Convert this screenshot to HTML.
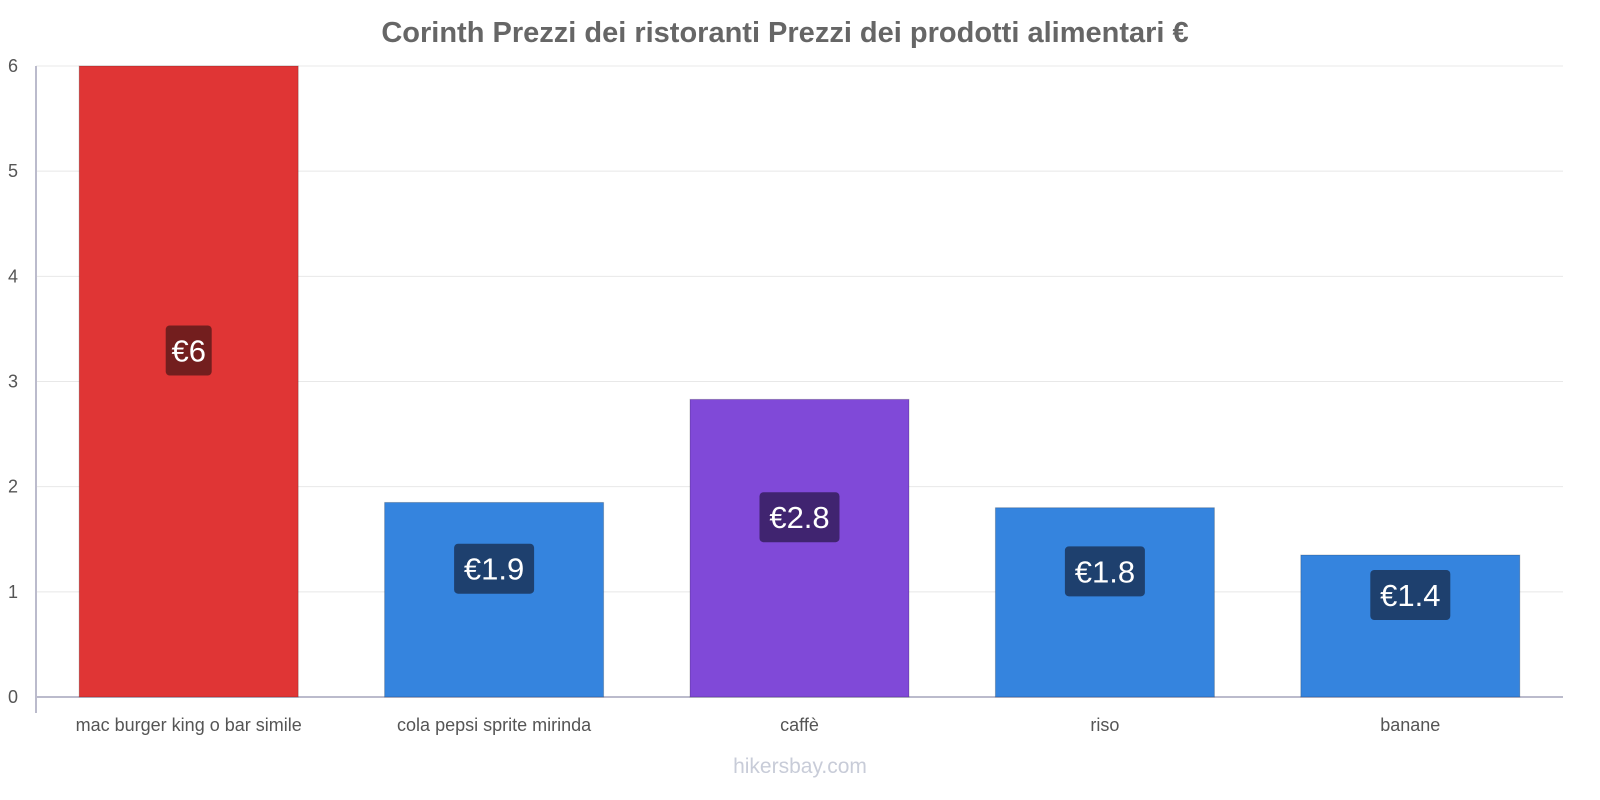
<!DOCTYPE html>
<html><head><meta charset="utf-8"><style>
body{margin:0;background:#fff;}
svg{display:block;font-family:"Liberation Sans",sans-serif;}
</style></head><body>
<svg id="chart" width="1600" height="800">
<text x="785" y="42" text-anchor="middle" font-size="29" font-weight="bold" fill="#666">Corinth Prezzi dei ristoranti Prezzi dei prodotti alimentari €</text>
<g id="grid"></g><g id="bars"></g><g id="labels"></g>
<text x="800" y="773" text-anchor="middle" font-size="21" fill="#c8ccd8">hikersbay.com</text>
</svg>
<script>
const categories=["mac burger king o bar simile","cola pepsi sprite mirinda","caffè","riso","banane"];
const values=[6,1.85,2.83,1.8,1.35];
const valueLabels=["€6","€1.9","€2.8","€1.8","€1.4"];
const yTicks=[0,1,2,3,4,5,6];
const barColors=["#e03535","#3584de","#8049d8","#3584de","#3584de"];
const boxColors=["#731e1e","#1e406e","#402470","#1e406e","#1e406e"];
const NS="http://www.w3.org/2000/svg";
const x0=36,x1=1563,yBase=697,yTop=66,maxV=6;
const y=v=>yBase-(yBase-yTop)*v/maxV;
const band=(x1-x0)/categories.length;
function mk(t,a,p){const e=document.createElementNS(NS,t);for(const k in a)e.setAttribute(k,a[k]);p.appendChild(e);return e;}
const g=document.getElementById('grid'),b=document.getElementById('bars'),l=document.getElementById('labels');
yTicks.forEach(t=>{
 const ln=mk('line',{x1:x0,x2:x1,y1:y(t),y2:y(t),stroke:t===0?'#bbc':'#e8e8e8','stroke-width':t===0?2:1},g);
 
 
 const tx=mk('text',{x:18,y:y(t)+6,'text-anchor':'end','font-size':18,fill:'#555'},g);
 tx.textContent=t;
 
 
});
const ax=mk('line',{x1:x0,x2:x0,y1:yTop,y2:713,stroke:'#bbc','stroke-width':2},g);


categories.forEach((c,i)=>{
 const cx=x0+band*(i+0.5),w=219,top=y(values[i]);
 const r=mk('rect',{x:cx-w/2,y:top,width:w,height:yBase-top,fill:barColors[i],stroke:'rgba(0,0,0,0.2)'},b);
 
 
 const cy=(top+yBase)/2-31;
 const tw=valueLabels[i].length*17+12;
 const bx=mk('rect',{x:cx-tw/2,y:cy-25,width:tw,height:50,rx:4,fill:boxColors[i]},l);
 
 
 const vt=mk('text',{x:cx,y:cy+11,'text-anchor':'middle','font-size':31,fill:'#fff'},l);
 vt.textContent=valueLabels[i];
 
 
 const xt=mk('text',{x:cx,y:731,'text-anchor':'middle','font-size':18,fill:'#555'},l);
 xt.textContent=c;
 
 
});
</script>
</body></html>
